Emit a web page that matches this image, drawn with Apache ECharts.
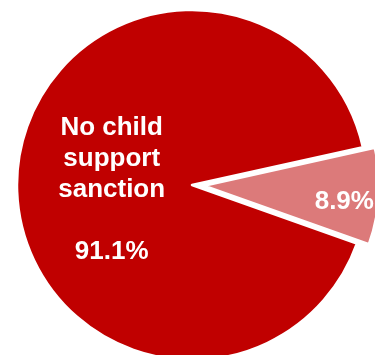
<!DOCTYPE html>
<html>
<head>
<meta charset="utf-8">
<script src="https://cdn.jsdelivr.net/npm/echarts@6/dist/echarts.min.js"></script>
<style>
  html, body { margin: 0; padding: 0; background: #fff; }
  #chart { width: 375px; height: 355px; }
</style>
</head>
<body>
<div id="chart"></div>
<script>
// Share of cases by child support sanction status (percent)
const categories = ['Child support sanction', 'No child support sanction'];
const values = [8.9, 91.1];
const labels = ['8.9%', 'No child\nsupport\nsanction\n\n91.1%'];
const colors = ['#DC7A7A', '#C00000'];

const chart = echarts.init(document.getElementById('chart'));

chart.setOption({
  animation: false,
  series: [{
    type: 'pie',
    center: [192, 185],
    radius: 175,
    startAngle: 12.5,
    clockwise: true,
    selectedMode: 'single',
    selectedOffset: 12,
    emphasis: { disabled: true },
    itemStyle: { borderColor: '#ffffff', borderWidth: 2.5 },
    label: {
      show: true,
      position: 'inside',
      color: '#ffffff',
      fontFamily: 'Liberation Sans, Arial, sans-serif',
      fontWeight: 'bold',
      fontSize: 26,
      lineHeight: 31,
      align: 'center',
      formatter: p => labels[p.dataIndex]
    },
    labelLayout: function (params) {
      if (params.dataIndex === 0) return { dx: 50, dy: 11 };
      return { dx: 10, dy: 10 };
    },
    data: categories.map((name, i) => ({
      name: name,
      value: values[i],
      selected: i === 0,
      itemStyle: { color: colors[i] }
    }))
  }]
});
</script>
</body>
</html>
